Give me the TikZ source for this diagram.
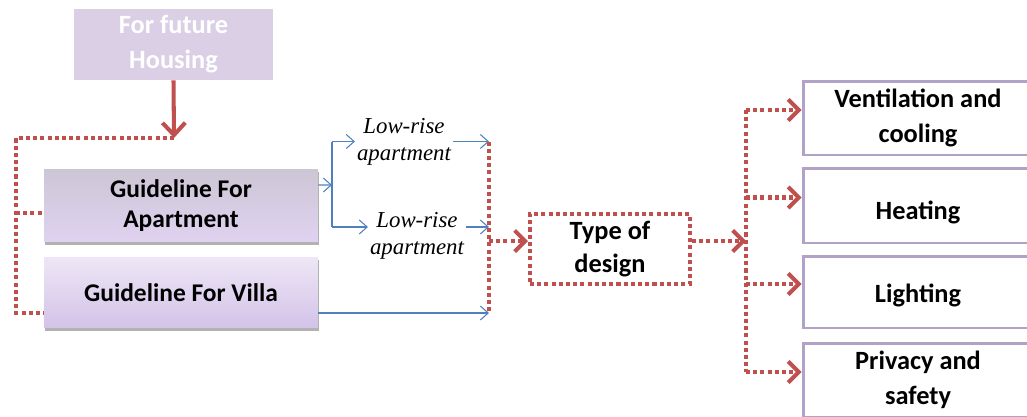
\documentclass[tikz,border=0pt]{standalone}
\usepackage{fontspec}
\setmainfont{Carlito}
\newfontfamily\lowfont{Liberation Serif}
\usetikzlibrary{positioning,arrows.meta,shadows,calc}
\definecolor{brickred}{HTML}{C0504D}
\definecolor{steelblue}{HTML}{4F81BD}
\definecolor{lilac}{HTML}{B3A2C7}
\definecolor{mist}{HTML}{DBCFE5}
\definecolor{aptTop}{HTML}{CDC6D5}
\definecolor{aptMid}{HTML}{DACDEB}
\definecolor{aptBottom}{HTML}{DFD2F0}
\definecolor{villaTop}{HTML}{EEE6F6}
\definecolor{villaBottom}{HTML}{D3C3E8}

\begin{document}
\begin{tikzpicture}[
    x=0.02cm, y=-0.02cm,
    guideBox/.style={rectangle, minimum width=5.48cm, align=center,
        font=\fontsize{14.5}{17}\selectfont\bfseries,
        drop shadow={shadow xshift=0.6pt, shadow yshift=-1.6pt, fill=black, opacity=0.3}},
    aspectBox/.style={rectangle, draw=lilac, line width=1.7pt, fill=white,
        minimum width=4.6cm, minimum height=1.46cm, align=center,
        font=\fontsize{15}{19.8}\selectfont\bfseries},
    dotLink/.style={draw=brickred, line width=2.3pt, dash pattern=on 2.3pt off 1.8pt},
    dotArrow/.style={dotLink, -{Straight Barb[length=6pt,width=12pt]}},
    blueLink/.style={draw=steelblue, line width=0.6pt, -{Straight Barb[length=4.5pt,width=8pt]}},
    lowLabel/.style={font=\lowfont\itshape\fontsize{13}{15.3}\selectfont, align=center, inner sep=1pt}
]
    \clip (0,0) rectangle (1027,416);

    % Source and guideline boxes
    \node[rectangle, fill=mist, minimum width=3.98cm, minimum height=1.42cm, align=center,
        text=white, font=\fontsize{15}{20}\selectfont\bfseries] (future) at (173.5,44.5) {For future\\Housing};
    \node[guideBox, top color=aptTop, middle color=aptMid, bottom color=aptBottom,
        minimum height=1.46cm] (apartment) at (181,205.5) {Guideline For\\Apartment};
    \node[guideBox, top color=villaTop, bottom color=villaBottom,
        minimum height=1.42cm] (villa) at (181,292.5) {Guideline For Villa};

    % Housing arrow and left rail
    \coordinate (housingIn) at (174,138);
    \coordinate (leftRail) at (16,138);
    \coordinate (aptIn) at ([yshift=-0.15cm]apartment.west);
    \draw[brickred, line width=2.3pt, -{Straight Barb[length=7pt,width=13pt]}] (future.south) -- (housingIn);
    \draw[dotLink] (housingIn) -- (leftRail) |- ([yshift=-0.41cm]villa.west);
    \draw[dotLink] (leftRail |- aptIn) -- (aptIn);

    % Apartment types
    \node[lowLabel] (lowUpper) at (404,141.5) {Low-rise\\apartment};
    \node[lowLabel] (lowLower) at (417,236) {Low-rise\\apartment};
    \coordinate (aptOut) at ([yshift=0.41cm]apartment.east);
    \coordinate (fork) at (332,185);
    \coordinate (lowerBranch) at (332,227);
    \coordinate (villaOut) at ([yshift=-0.41cm]villa.east);
    \coordinate (mergeRail) at (489,0);
    \draw[blueLink] (aptOut) -- (fork);
    \draw[steelblue, line width=0.6pt] (fork |- lowUpper) -- (lowerBranch);
    \draw[blueLink] (fork |- lowUpper) -- (lowUpper.west);
    \draw[blueLink] (lowerBranch) -- (lowerBranch -| lowLower.west);
    \draw[blueLink] (lowUpper.east) -- (lowUpper.east -| mergeRail);
    \draw[blueLink] (lowerBranch -| lowLower.east) -- (lowerBranch -| mergeRail);
    \draw[blueLink] (villaOut) -- (villaOut -| mergeRail);

    % Type of design
    \node[rectangle, dotLink, minimum width=3.2cm, minimum height=1.4cm, align=center,
        font=\fontsize{15}{18.7}\selectfont\bfseries] (design) at (610,249) {Type of\\design};
    \coordinate (designIn) at ([yshift=0.16cm]design.west);
    \coordinate (designOut) at ([yshift=0.16cm]design.east);
    \draw[dotLink] (mergeRail |- lowUpper) -- (mergeRail |- villaOut);
    \draw[dotArrow] (mergeRail |- designIn) -- (designIn);

    % Design aspects
    \node[aspectBox, minimum height=1.48cm] (vent) at (918,118) {Ventilation and\\cooling};
    \node[aspectBox, minimum height=1.5cm, text height=18pt] (heat) at (918,205.5) {Heating};
    \node[aspectBox, minimum height=1.44cm, text height=14pt] (light) at (918,292) {Lighting};
    \node[aspectBox, minimum height=1.48cm] (privacy) at (918,380) {Privacy and\\safety};
    \coordinate (spine) at (746,0);
    \draw[dotArrow] (designOut) -- (designOut -| spine);
    \foreach \b in {vent,heat,light,privacy} {
        \coordinate (\b-in) at ([yshift=0.16cm]\b.west);
        \draw[dotArrow] (spine |- \b-in) -- (\b-in);
    }
    \draw[dotLink] (spine |- vent-in) -- (spine |- privacy-in);
\end{tikzpicture}
\end{document}
